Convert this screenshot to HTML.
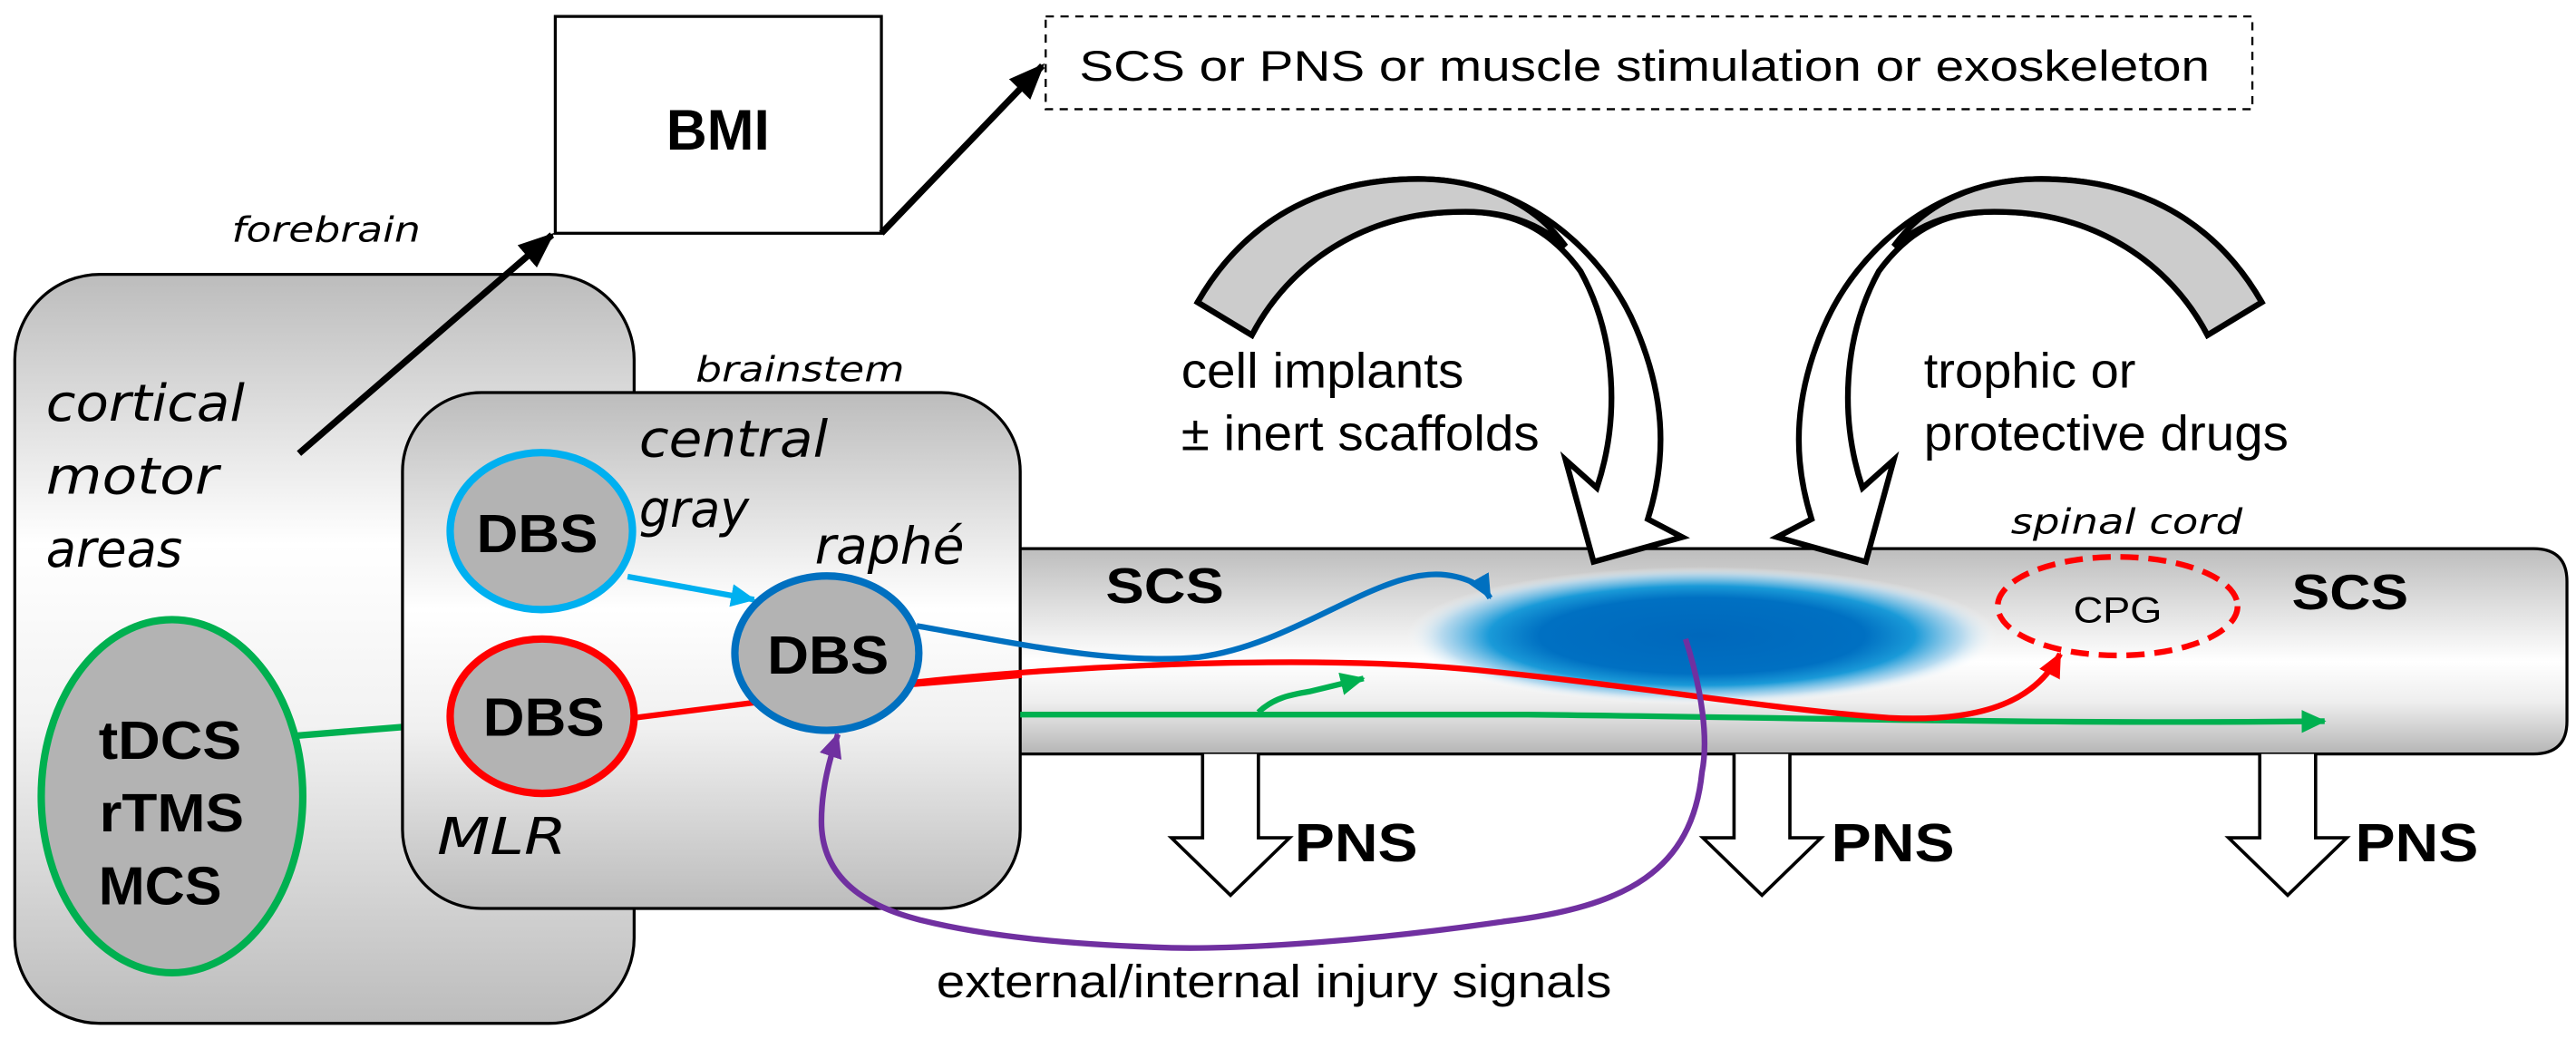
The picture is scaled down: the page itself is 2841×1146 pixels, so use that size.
<!DOCTYPE html>
<html><head><meta charset="utf-8"><style>
html,body{margin:0;padding:0;background:#fff;}
svg{display:block;}
.h{font-family:"DejaVu Sans","Liberation Sans",sans-serif;font-style:italic;fill:#000;}
.s{font-family:"Liberation Sans",sans-serif;fill:#000;}
.b{font-family:"Liberation Sans",sans-serif;font-weight:bold;fill:#000;}
</style></head><body>
<svg width="2841" height="1146" viewBox="0 0 1568 632.5" preserveAspectRatio="none" xmlns="http://www.w3.org/2000/svg">
<defs>
<linearGradient id="gc" x1="0" y1="0" x2="0" y2="1">
<stop offset="0" stop-color="#bcbcbc"/><stop offset="0.36" stop-color="#ffffff"/><stop offset="0.6" stop-color="#f2f2f2"/><stop offset="1" stop-color="#bcbcbc"/></linearGradient>
<linearGradient id="gb" x1="0" y1="0" x2="0" y2="1">
<stop offset="0" stop-color="#bcbcbc"/><stop offset="0.42" stop-color="#ffffff"/><stop offset="0.65" stop-color="#f0f0f0"/><stop offset="1" stop-color="#bcbcbc"/></linearGradient>
<linearGradient id="gs" x1="0" y1="0" x2="0" y2="1">
<stop offset="0" stop-color="#bdbdbd"/><stop offset="0.55" stop-color="#ffffff"/><stop offset="0.75" stop-color="#eeeeee"/><stop offset="1" stop-color="#b5b5b5"/></linearGradient>
<radialGradient id="blob" cx="0.5" cy="0.5" r="0.5">
<stop offset="0" stop-color="#0068bc"/><stop offset="0.55" stop-color="#0070c2"/><stop offset="0.72" stop-color="#1a9ad8"/><stop offset="0.88" stop-color="#a8d4ee" stop-opacity="0.8"/><stop offset="1" stop-color="#ffffff" stop-opacity="0"/></radialGradient>
<marker id="ak" markerUnits="userSpaceOnUse" markerWidth="24" markerHeight="24" refX="20" refY="9" orient="auto"><path d="M0,0 L22,9 L0,18 Z" fill="#000"/></marker>
<marker id="ac" markerUnits="userSpaceOnUse" markerWidth="20" markerHeight="20" refX="14" refY="7" orient="auto"><path d="M0,0 L15,7 L0,14 Z" fill="#00b0f0"/></marker>
<marker id="ab" markerUnits="userSpaceOnUse" markerWidth="20" markerHeight="20" refX="14" refY="7" orient="auto"><path d="M0,0 L15,7 L0,14 Z" fill="#0070c0"/></marker>
<marker id="ar" markerUnits="userSpaceOnUse" markerWidth="20" markerHeight="20" refX="14" refY="7" orient="auto"><path d="M0,0 L15,7 L0,14 Z" fill="#ff0000"/></marker>
<marker id="ag" markerUnits="userSpaceOnUse" markerWidth="20" markerHeight="20" refX="14" refY="7" orient="auto"><path d="M0,0 L15,7 L0,14 Z" fill="#00b050"/></marker>
<marker id="ap" markerUnits="userSpaceOnUse" markerWidth="20" markerHeight="20" refX="14" refY="7" orient="auto"><path d="M0,0 L15,7 L0,14 Z" fill="#7030a0"/></marker>
<g id="carrow">
<path d="M729,184 C760,130 810,108 867,109 C925,110 975,150 996,200 C1012,238 1016,275 1003,316 L1024,327 L970,342 L953,280 L972,297 C986,255 984,205 962,165 C940,135 915,128 887,129 C830,130 785,160 762,204 Z" fill="#fff" stroke="#000" stroke-width="3.5" stroke-linejoin="miter"/>
<path d="M729,184 C760,130 810,108 867,109 C905,110 935,125 953,150 C935,135 915,128 887,129 C830,130 785,160 762,204 Z" fill="#cccccc" stroke="#000" stroke-width="3.5"/>
</g>
<g id="pns"><path d="M0,0 L0,51 L-19,51 L17,86 L53,51 L34,51 L34,0" fill="#fff" stroke="#000" stroke-width="2"/></g>
</defs>

<!-- BMI -->
<rect x="338" y="10" width="198.5" height="132" fill="#fff" stroke="#000" stroke-width="1.8"/>
<text class="b" x="437" y="91" font-size="35" text-anchor="middle" textLength="63" lengthAdjust="spacingAndGlyphs">BMI</text>
<rect x="636.5" y="10" width="734.5" height="56.5" fill="#fff" stroke="#000" stroke-width="1.3" stroke-dasharray="5,4"/>
<text class="s" x="657" y="49" font-size="26" textLength="688" lengthAdjust="spacingAndGlyphs">SCS or PNS or muscle stimulation or exoskeleton</text>
<line x1="536.5" y1="142" x2="634.5" y2="40" stroke="#000" stroke-width="4" marker-end="url(#ak)"/>
<text class="h" x="141" y="147" font-size="21" textLength="115" lengthAdjust="spacingAndGlyphs">forebrain</text>

<!-- cortical -->
<rect x="9" y="167" width="377" height="456" rx="52" fill="url(#gc)" stroke="#000" stroke-width="1.8"/>
<text class="h" x="28" y="256" font-size="31" textLength="121" lengthAdjust="spacingAndGlyphs">cortical</text>
<text class="h" x="28" y="300.5" font-size="31" textLength="105" lengthAdjust="spacingAndGlyphs">motor</text>
<text class="h" x="28" y="345" font-size="31" textLength="83" lengthAdjust="spacingAndGlyphs">areas</text>
<line x1="182" y1="276" x2="336" y2="143" stroke="#000" stroke-width="4" marker-end="url(#ak)"/>
<ellipse cx="104.7" cy="484.7" rx="79.6" ry="107.5" fill="#b3b3b3" stroke="#00b050" stroke-width="4.5"/>
<text class="b" x="60" y="462" font-size="33" textLength="87" lengthAdjust="spacingAndGlyphs">tDCS</text>
<text class="b" x="60.5" y="506" font-size="33" textLength="88" lengthAdjust="spacingAndGlyphs">rTMS</text>
<text class="b" x="60" y="550.5" font-size="33" textLength="75" lengthAdjust="spacingAndGlyphs">MCS</text>
<line x1="181" y1="447.8" x2="246" y2="442.5" stroke="#00b050" stroke-width="4"/>

<!-- spinal cord bar -->
<path d="M600,334 L1542,334 Q1562.5,334 1562.5,354 L1562.5,439 Q1562.5,459 1542,459 L600,459 Z" fill="url(#gs)" stroke="#000" stroke-width="1.8"/>

<!-- brainstem -->
<rect x="245" y="239" width="376" height="314" rx="48" fill="url(#gb)" stroke="#000" stroke-width="1.8"/>
<text class="h" x="423.5" y="232" font-size="21" textLength="127" lengthAdjust="spacingAndGlyphs">brainstem</text>
<text class="h" x="389" y="278" font-size="31" textLength="115" lengthAdjust="spacingAndGlyphs">central</text>
<text class="h" x="389" y="320.6" font-size="31" textLength="67" lengthAdjust="spacingAndGlyphs">gray</text>
<text class="h" x="496" y="343" font-size="31" textLength="91" lengthAdjust="spacingAndGlyphs">raphé</text>
<text class="h" x="266" y="520" font-size="31" textLength="79" lengthAdjust="spacingAndGlyphs">MLR</text>

<!-- lines in cord -->
<ellipse cx="1036" cy="387" rx="180" ry="42" fill="url(#blob)"/>
<path d="M621,435 L930,435 C1100,437 1250,441 1415,439" fill="none" stroke="#00b050" stroke-width="3.5" marker-end="url(#ag)"/>
<path d="M766,433.6 C775,425 785,423 797,421 L830,413" fill="none" stroke="#00b050" stroke-width="3.5" marker-end="url(#ag)"/>
<path d="M556,415.5 C650,405 800,398 900,408 C1000,418 1080,432 1150,437 C1210,440 1240,425 1254,398" fill="none" stroke="#ff0000" stroke-width="3.5" marker-end="url(#ar)"/>
<path d="M558,381 C620,392 680,405 730,400 C790,392 840,345 880,350 C895,352 903,357 907,364" fill="none" stroke="#0070c0" stroke-width="3.5" marker-end="url(#ab)"/>
<ellipse cx="1289" cy="369" rx="73" ry="30" fill="none" stroke="#ff0000" stroke-width="3.5" stroke-dasharray="11,6"/>
<text class="s" x="1289" y="379" font-size="22" text-anchor="middle" textLength="54" lengthAdjust="spacingAndGlyphs">CPG</text>
<text class="h" x="1224" y="324.7" font-size="21" textLength="141" lengthAdjust="spacingAndGlyphs">spinal cord</text>
<text class="b" x="673" y="367" font-size="30" textLength="72" lengthAdjust="spacingAndGlyphs">SCS</text>
<text class="b" x="1395" y="371" font-size="30" textLength="71" lengthAdjust="spacingAndGlyphs">SCS</text>

<!-- brainstem connectors and DBS -->
<line x1="382" y1="351" x2="459" y2="365" stroke="#00b0f0" stroke-width="3.5" marker-end="url(#ac)"/>
<line x1="386" y1="437" x2="460" y2="427.6" stroke="#ff0000" stroke-width="3.5"/>
<line x1="550" y1="417" x2="622" y2="411" stroke="#ff0000" stroke-width="3.5"/>
<ellipse cx="329.5" cy="323.3" rx="55.5" ry="47.8" fill="#b3b3b3" stroke="#00b0f0" stroke-width="4.5"/>
<ellipse cx="330" cy="436" rx="56" ry="47" fill="#b3b3b3" stroke="#ff0000" stroke-width="4.5"/>
<ellipse cx="503.3" cy="397.6" rx="56" ry="47" fill="#b3b3b3" stroke="#0070c0" stroke-width="4.5"/>
<text class="b" x="327" y="336" font-size="33" text-anchor="middle" textLength="74" lengthAdjust="spacingAndGlyphs">DBS</text>
<text class="b" x="331" y="448" font-size="33" text-anchor="middle" textLength="74" lengthAdjust="spacingAndGlyphs">DBS</text>
<text class="b" x="504" y="410" font-size="33" text-anchor="middle" textLength="74" lengthAdjust="spacingAndGlyphs">DBS</text>

<!-- purple -->
<path d="M1026,389 C1036,420 1040,450 1036,470 C1030,530 990,552 915,561 C840,572 760,578 713,577 C650,575 600,570 560,560 C520,550 500,530 500,500 C500,480 505,462 510,447" fill="none" stroke="#7030a0" stroke-width="3.5" marker-end="url(#ap)"/>

<!-- curved arrows -->
<use href="#carrow"/>
<use href="#carrow" transform="translate(2105.7,0) scale(-1,1)"/>
<text class="s" x="719" y="236" font-size="30" textLength="172" lengthAdjust="spacingAndGlyphs">cell implants</text>
<text class="s" x="719" y="274" font-size="30" textLength="218" lengthAdjust="spacingAndGlyphs">± inert scaffolds</text>
<text class="s" x="1171" y="236" font-size="30" textLength="129" lengthAdjust="spacingAndGlyphs">trophic or</text>
<text class="s" x="1171" y="274" font-size="30" textLength="222" lengthAdjust="spacingAndGlyphs">protective drugs</text>

<!-- PNS -->
<use href="#pns" transform="translate(732,459)"/>
<use href="#pns" transform="translate(1055.5,459)"/>
<use href="#pns" transform="translate(1375.5,459)"/>
<text class="b" x="788" y="524.4" font-size="33" textLength="75" lengthAdjust="spacingAndGlyphs">PNS</text>
<text class="b" x="1114.7" y="524.4" font-size="33" textLength="75" lengthAdjust="spacingAndGlyphs">PNS</text>
<text class="b" x="1433.6" y="524.4" font-size="33" textLength="75" lengthAdjust="spacingAndGlyphs">PNS</text>

<text class="s" x="570" y="607" font-size="28" textLength="411" lengthAdjust="spacingAndGlyphs">external/internal injury signals</text>
</svg>
</body></html>
